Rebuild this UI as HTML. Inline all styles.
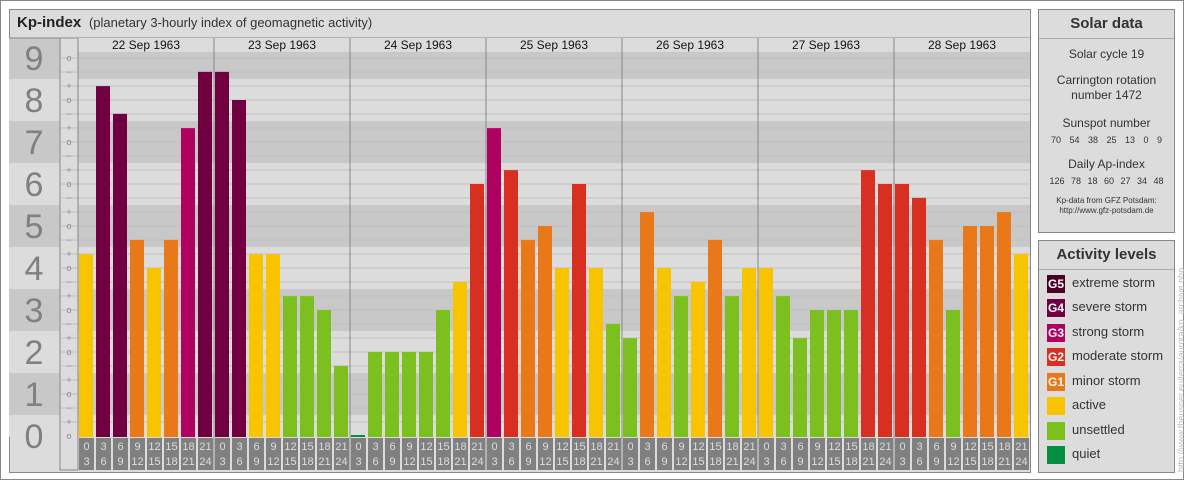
<!DOCTYPE html>
<html><head><meta charset="utf-8"><style>
body{margin:0;width:1184px;height:480px;background:#fff;font-family:"Liberation Sans",sans-serif;overflow:hidden;position:relative}
.abs{position:absolute}
#frame{left:0;top:0;width:1182px;height:478px;border:1px solid #888}
.panel{background:#dcdcdc;border:1px solid #888;box-sizing:border-box}
.side{text-align:center;color:#333}
.leg{position:absolute;left:8px;font-size:13px;color:#333}
.sw{position:absolute;left:0;width:18px;height:18px;color:#fff;font-size:12px;font-weight:bold;text-align:center;line-height:18px}
</style></head><body>
<div id="frame" class="abs"></div>
<div class="abs panel" style="left:9px;top:9px;width:1022px;height:464px"></div>
<div class="abs" style="left:17px;top:14px;font-size:15px;color:#222"><b>Kp-index</b> <span style="font-size:13px;color:#333">&nbsp;(planetary 3-hourly index of geomagnetic activity)</span></div>
<svg class="abs" style="left:0;top:0" width="1184" height="480" id="chart"></svg>

<div class="abs panel side" style="left:1038px;top:9px;width:137px;height:224px">
 <div style="height:28px;line-height:28px;font-size:15px;font-weight:bold;border-bottom:1px solid #aaa">Solar data</div>
 <div style="margin-top:8px;font-size:12px">Solar cycle 19</div>
 <div style="margin-top:12px;font-size:12px;line-height:15px">Carrington rotation<br>number 1472</div>
 <div style="margin-top:13px;font-size:12px">Sunspot number</div>
 <div style="margin-top:5px;font-size:9px;word-spacing:6px">70 54 38 25 13 0 9</div>
 <div style="margin-top:12px;font-size:12px">Daily Ap-index</div>
 <div style="margin-top:5px;font-size:9px;word-spacing:4px">126 78 18 60 27 34 48</div>
 <div style="margin-top:10px;font-size:8px;line-height:10px">Kp-data from GFZ Potsdam:<br>http://www.gfz-potsdam.de</div>
</div>

<div class="abs panel" style="left:1038px;top:240px;width:137px;height:233px">
 <div style="height:28px;line-height:28px;font-size:15px;font-weight:bold;text-align:center;color:#333;border-bottom:1px solid #aaa">Activity levels</div>
 <div class="leg" style="top:34px"><div class="sw" style="background:#4a0025">G5</div><span style="margin-left:25px">extreme storm</span></div>
 <div class="leg" style="top:58px"><div class="sw" style="background:#700040">G4</div><span style="margin-left:25px">severe storm</span></div>
 <div class="leg" style="top:83px"><div class="sw" style="background:#b00060">G3</div><span style="margin-left:25px">strong storm</span></div>
 <div class="leg" style="top:107px"><div class="sw" style="background:#d83020">G2</div><span style="margin-left:25px">moderate storm</span></div>
 <div class="leg" style="top:132px"><div class="sw" style="background:#e87818">G1</div><span style="margin-left:25px">minor storm</span></div>
 <div class="leg" style="top:156px"><div class="sw" style="background:#f8c400"></div><span style="margin-left:25px">active</span></div>
 <div class="leg" style="top:181px"><div class="sw" style="background:#7cc020"></div><span style="margin-left:25px">unsettled</span></div>
 <div class="leg" style="top:205px"><div class="sw" style="background:#009040"></div><span style="margin-left:25px">quiet</span></div>
</div>
<div class="abs" style="left:1176px;top:472px;transform:rotate(-90deg);transform-origin:0 0;font-size:9px;color:#bbb;white-space:nowrap;width:230px">http://www.theusner.eu/terra/aurora/kp_archive.php</div>

<script>
const days=["22 Sep 1963","23 Sep 1963","24 Sep 1963","25 Sep 1963","26 Sep 1963","27 Sep 1963","28 Sep 1963"];
const kpDay1=[4.33,8.33,7.67,4.67,4,4.67,7.33,8.67];
const kpDay2=[8.67,8,4.33,4.33,3.33,3.33,3,1.67];
const kpDay3=[0,2,2,2,2,3,3.67,6];
const kpDay4=[7.33,6.33,4.67,5,4,6,4,2.67];
const kpDay5=[2.33,5.33,4,3.33,3.67,4.67,3.33,4];
const kpDay6=[4,3.33,2.33,3,3,3,6.33,6];
const kpDay7=[6,5.67,4.67,3,5,5,5.33,4.33];
const kpValues=[kpDay1,kpDay2,kpDay3,kpDay4,kpDay5,kpDay6,kpDay7];
const hourStart=["0","3","6","9","12","15","18","21"];
const hourEnd=["3","6","9","12","15","18","21","24"];
const kpTicks=[0,1,2,3,4,5,6,7,8,9];

const NS="http://www.w3.org/2000/svg";
const svg=document.getElementById('chart');
const X0=78,SLOT=17,PX=1030,Y0=436,U=42,TOP=38,BOT=437;
const y=k=>Y0-U*k;
const x=i=>X0+SLOT*i;
function mk(t,a,p){const e=document.createElementNS(NS,t);for(const k in a)e.setAttribute(k,a[k]);(p||svg).appendChild(e);return e;}
function color(k){if(k>=9)return"#4a0025";if(k>=7.6)return"#700040";if(k>=6.6)return"#b00060";if(k>=5.6)return"#d83020";if(k>=4.6)return"#e87818";if(k>=3.6)return"#f8c400";if(k>=1.6)return"#7cc020";return"#009040";}

// bands
kpTicks.forEach(k=>{
 const top=Math.max(TOP,y(k+0.5)),bot=Math.min(BOT,y(k-0.5));
 const r1=mk('rect',{x:9,y:top,width:51,height:bot-top,fill:k%2?'#c8c8c8':'#dcdcdc'});
 
 
 const r2=mk('rect',{x:X0,y:top+(top==TOP?14:0),width:PX-X0,height:bot-top-(top==TOP?14:0),fill:k%2?'#c8c8c8':'#dcdcdc'});
 
 
 const t=mk('text',{x:34,y:y(k)+12,'font-size':34,fill:'#808080','text-anchor':'middle'});
 t.textContent=k;
 
 
});
mk('rect',{x:60,y:TOP,width:18,height:470-TOP,fill:'#dcdcdc',stroke:'#888','stroke-width':1});
// third marks
for(let n=0;n<=27;n++){
 const k=n/3;if(y(k)<TOP+14)continue;
 if(n>0)mk('line',{x1:61,x2:PX,y1:y(k),y2:y(k),stroke:'#c0c0c0','stroke-width':1});
 const m=mk('text',{x:69,y:y(k)+3,'font-size':9,fill:'#888','text-anchor':'middle'});
 m.textContent=['o','+','\u2212'][n%3];
 
 
}
mk('line',{x1:9,x2:PX,y1:TOP,y2:TOP,stroke:'#888'});
mk('rect',{x:X0,y:TOP,width:PX-X0,height:14,fill:'#dcdcdc'});
// bars
kpValues.forEach((day,d)=>{
 const h=mk('text',{x:x(d*8)+68,y:TOP+11,'font-size':12,fill:'#111','text-anchor':'middle'});
 h.textContent=days[d];
 
 
 day.forEach((k,j)=>{
  const i=d*8+j,top=Math.min(y(k),BOT-2);
  const b=mk('rect',{x:x(i)+1,y:top,width:14,height:BOT-top,fill:color(k)});
  
  
  const bx=mk('rect',{x:x(i)+1,y:BOT+1,width:15,height:32,fill:'#808080'});
  
  
  const t1=mk('text',{x:x(i)+8.5,y:BOT+13,'font-size':11,fill:'#ddd','text-anchor':'middle'});t1.textContent=hourStart[j];
  
  
  const t2=mk('text',{x:x(i)+8.5,y:BOT+28,'font-size':11,fill:'#ddd','text-anchor':'middle'});t2.textContent=hourEnd[j];
  
  
 });
 if(d>0)mk('line',{x1:x(d*8),x2:x(d*8),y1:TOP,y2:470,stroke:'#888'});
});
mk('line',{x1:X0,x2:X0,y1:TOP,y2:470,stroke:'#888'});
mk('line',{x1:60,x2:60,y1:TOP,y2:470,stroke:'#888'});
</script>
</body></html>
